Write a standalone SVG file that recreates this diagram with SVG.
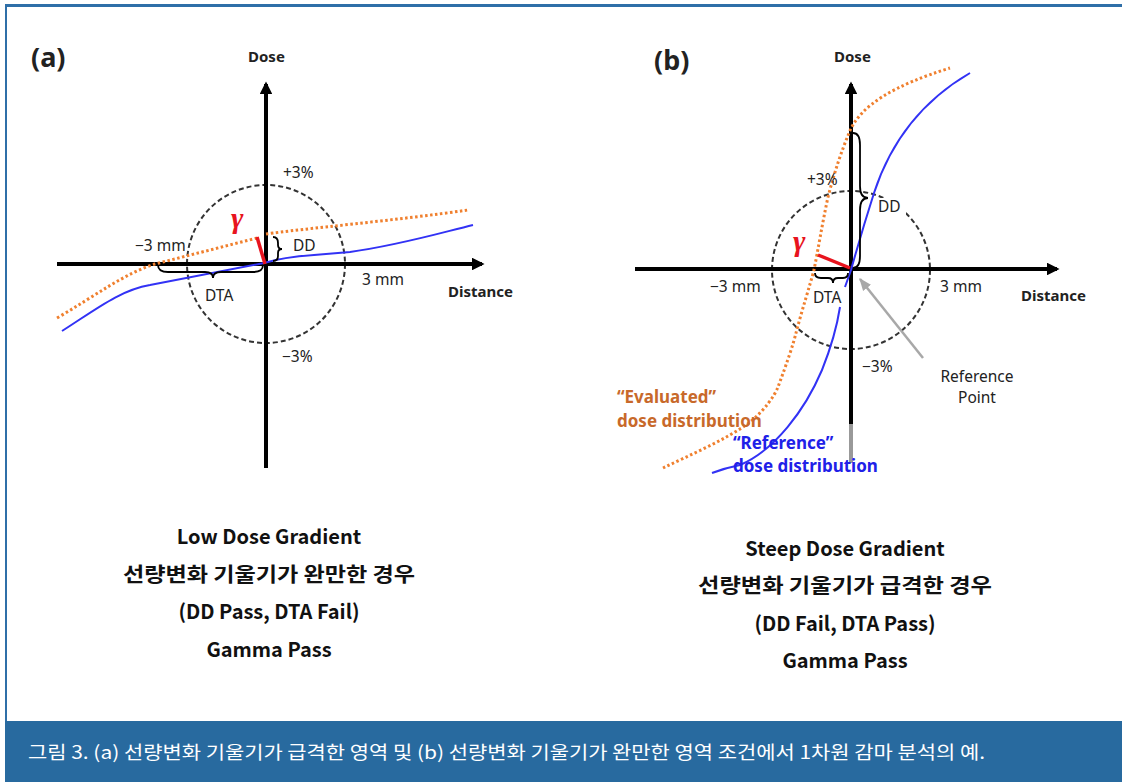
<svg xmlns="http://www.w3.org/2000/svg" width="1122" height="782" viewBox="0 0 1122 782">
<defs>
<style>
.ax{stroke:#000;stroke-width:4;fill:none}
.circ{stroke:#333;stroke-width:2;stroke-dasharray:5 3;fill:none}
.ev{stroke:#f0802f;stroke-width:3;stroke-dasharray:2.5 2.5;fill:none}
.ref{stroke:#3232f5;stroke-width:2;fill:none}
.br{stroke:#000;stroke-width:1.8;fill:none}
.gl{stroke:#e8141e;stroke-width:3.5;fill:none}
.lbl{font-family:"Noto Sans","Liberation Sans",sans-serif;font-size:15.5px;fill:#222}
.bl{font-family:"Noto Sans","Liberation Sans",sans-serif;font-size:15px;font-weight:bold;fill:#222}
.pn{font-family:"Noto Sans","Liberation Sans",sans-serif;font-size:27px;font-weight:bold;fill:#222}
.gam{font-family:"Liberation Serif","DejaVu Serif",serif;font-size:30px;font-weight:bold;font-style:italic;fill:#e8141e}
.cap{font-family:"Noto Sans CJK KR","Noto Sans",sans-serif;font-size:20px;font-weight:bold;fill:#111;text-anchor:middle}
.evt{font-family:"Noto Sans","Liberation Sans",sans-serif;font-size:17px;font-weight:bold;fill:#c8692a}
.rft{font-family:"Noto Sans","Liberation Sans",sans-serif;font-size:17px;font-weight:bold;fill:#2020e8}
</style>
<marker id="ah" viewBox="0 0 10 10" refX="8" refY="5" markerWidth="3.2" markerHeight="3.2" orient="auto" markerUnits="strokeWidth">
<path d="M0,0 L10,5 L0,10 z" fill="#000"/>
</marker>
<marker id="gah" viewBox="0 0 10 10" refX="9" refY="5" markerWidth="5" markerHeight="5" orient="auto" markerUnits="strokeWidth">
<path d="M0,1 L10,5 L0,9 z" fill="#a8a8a8"/>
</marker>
</defs>
<rect width="1122" height="782" fill="#fff"/>
<g id="frame">
<line x1="5" y1="5.5" x2="1122" y2="5.5" stroke="#2f6fa8" stroke-width="3"/>
<line x1="6" y1="5" x2="6" y2="722" stroke="#2f6fa8" stroke-width="2"/>
<rect x="5" y="721" width="1117" height="61" fill="#286a9f"/>
<text x="28" y="759" font-family="'Noto Sans CJK KR','Noto Sans',sans-serif" font-size="18" fill="#fff" textLength="957" lengthAdjust="spacingAndGlyphs">그림 3. (a) 선량변화 기울기가 급격한 영역 및 (b) 선량변화 기울기가 완만한 영역 조건에서 1차원 감마 분석의 예.</text>
</g>
<g id="panel-a">
<text class="pn" x="31" y="67">(a)</text>
<circle class="circ" cx="266" cy="264" r="79"/>
<g id="connectors-a">
<line class="ax" x1="266" y1="468" x2="266" y2="84" marker-end="url(#ah)"/>
<line class="ax" x1="57" y1="264" x2="482" y2="264" marker-end="url(#ah)"/>
<path class="ev" d="M57,318 C95,296 125,273 155,264 L257,238"/>
<path class="ev" d="M266,234 C300,229 400,220 468,210"/>
<path class="ref" d="M62,331 C95,310 120,290 150,285 L264,263 C280,258 300,256 314,255 L350,252 C400,245 440,233 473,225"/>
<line class="gl" x1="257" y1="237" x2="265" y2="264"/>
<path class="br" d="M158,265 Q158,272 168,272 L205,272 Q213,272 213,278 Q213,272 221,272 L253,272 Q263,272 263,265"/>
<path class="br" d="M273,237 Q278,237 278,243 L278,245 Q278,249 282,249 Q278,249 278,253 L278,256 Q278,261 273,261"/>
</g>
<text class="bl" x="248" y="62">Dose</text>
<text class="lbl" x="283" y="178">+3%</text>
<text class="lbl" x="282" y="362">−3%</text>
<text class="lbl" x="135" y="251">−3 mm</text>
<text class="lbl" x="362" y="285">3 mm</text>
<rect x="203" y="287" width="32" height="18" fill="#fff"/>
<text class="lbl" x="205" y="301">DTA</text>
<text class="lbl" x="293" y="251">DD</text>
<text class="bl" x="448" y="297">Distance</text>
<text class="gam" x="231" y="228">γ</text>
<text class="cap" x="269" y="544">Low Dose Gradient</text>
<text class="cap" x="269" y="582" textLength="292" lengthAdjust="spacingAndGlyphs">선량변화 기울기가 완만한 경우</text>
<text class="cap" x="269" y="619">(DD Pass, DTA Fail)</text>
<text class="cap" x="269" y="657">Gamma Pass</text>
</g>
<g id="panel-b">
<text class="pn" x="654" y="70">(b)</text>
<circle class="circ" cx="851" cy="270" r="79"/>
<g id="connectors-b">
<line class="ax" x1="851" y1="425" x2="851" y2="84" marker-end="url(#ah)"/>
<line x1="851" y1="424" x2="851" y2="463" stroke="#999" stroke-width="4"/>
<line class="ax" x1="635" y1="269" x2="1057" y2="269" marker-end="url(#ah)"/>
<path class="ev" d="M663,468 C690,455 725,440 749,423 C765,410 775,395 778,387 C788,360 793,345 796,333 C802,310 810,285 814,270 C818,250 822,225 828,197 C835,170 842,150 849,133 C860,105 895,85 950,68"/>
<path class="ref" d="M712,473 Q725,468 740,465 C775,450 805,410 822,370 C832,345 838,320 840,307"/>
<path class="ref" d="M845,287 L851,270 C858,245 866,218 874,193 C888,150 915,105 970,73"/>
<line class="gl" x1="818" y1="255" x2="850" y2="268"/>
<path class="br" d="M853,133 Q860,133 860,145 L860,186 Q860,198 868,198 Q860,198 860,210 L860,256 Q860,268 853,268"/>
<path class="br" d="M815,273 Q815,278 821,278 L828,278 Q833,278 833,283 Q833,278 838,278 L843,278 Q848,278 848,273"/>
<line x1="923" y1="358" x2="860" y2="279" stroke="#a8a8a8" stroke-width="2.5" marker-end="url(#gah)"/>
</g>
<text class="bl" x="834" y="62">Dose</text>
<text class="lbl" x="807" y="185">+3%</text>
<rect x="876" y="198" width="30" height="19" fill="#fff"/>
<text class="lbl" x="878" y="212">DD</text>
<rect x="708" y="278" width="53" height="19" fill="#fff"/>
<text class="lbl" x="710" y="292">−3 mm</text>
<text class="lbl" x="940" y="292">3 mm</text>
<rect x="811" y="288" width="32" height="18" fill="#fff"/>
<text class="lbl" x="813" y="303">DTA</text>
<text class="bl" x="1021" y="301">Distance</text>
<text class="lbl" x="862" y="372">−3%</text>
<text class="lbl" x="977" y="382" text-anchor="middle">Reference</text>
<text class="lbl" x="977" y="403" text-anchor="middle">Point</text>
<text class="gam" x="793" y="251">γ</text>
<text class="evt" x="617" y="403">“Evaluated”</text>
<text class="evt" x="617" y="427">dose distribution</text>
<text class="rft" x="733" y="449">“Reference”</text>
<text class="rft" x="733" y="472">dose distribution</text>
<text class="cap" x="845" y="556">Steep Dose Gradient</text>
<text class="cap" x="845" y="593" textLength="294" lengthAdjust="spacingAndGlyphs">선량변화 기울기가 급격한 경우</text>
<text class="cap" x="845" y="631">(DD Fail, DTA Pass)</text>
<text class="cap" x="845" y="668">Gamma Pass</text>
</g>
</svg>
